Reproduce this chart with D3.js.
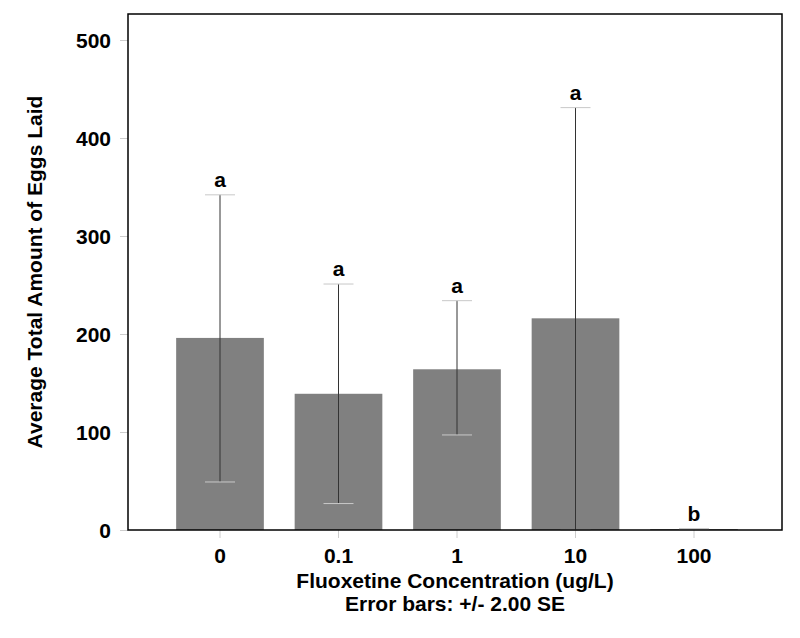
<!DOCTYPE html>
<html><head><meta charset="utf-8">
<script src="https://cdn.jsdelivr.net/npm/d3@7/dist/d3.min.js"></script>
<style>body{margin:0;background:#fff;} text{font-family:"Liberation Sans",Arial,sans-serif;font-weight:bold;}</style>
</head><body>
<svg id="c" width="800" height="638"></svg>
<script>
const categories = ["0","0.1","1","10","100"];
const means = [196, 139, 164, 216, 1];
const upper = [342, 251, 234, 431, 1.5];
const lower = [49, 27, 97, 0, 0.5];
const letters = ["a","a","a","a","b"];
const yTicks = [0,100,200,300,400,500];

const svg = d3.select("#c");
const L=128, R=782, T=14, B=530;
const FS = 21;
const x = d3.scaleBand().domain(categories).range([160.75, 753.25]).paddingInner(0.26).paddingOuter(0.13);
const y = d3.scaleLinear().domain([0,500]).range([B, 40]);

// y ticks
const ya = svg.append("g").attr("transform",`translate(${L},0)`)
  .call(d3.axisLeft(y).tickValues(yTicks).tickSize(8).tickPadding(9).tickFormat(d3.format("d")));
ya.select(".domain").remove();
ya.selectAll("line").attr("stroke","#ccc");
ya.selectAll("text").attr("font-size",FS).attr("fill","#000").attr("dy","0.35em");

const xa = svg.append("g").attr("transform",`translate(0,${B})`)
  .call(d3.axisBottom(x).tickSize(8).tickPadding(10));
xa.select(".domain").remove();
xa.selectAll("line").attr("stroke","#ccc");
xa.selectAll("text").attr("font-size",FS).attr("fill","#000");

// bars
svg.append("g").selectAll("rect").data(categories).join("rect")
  .attr("x",d=>x(d)).attr("width",x.bandwidth())
  .attr("y",(d,i)=>y(means[i])).attr("height",(d,i)=>B-y(means[i]))
  .attr("fill","#808080");

// error bars
const eb = svg.append("g");
categories.forEach((c,i)=>{
  const cx = x(c)+x.bandwidth()/2;
  eb.append("line").attr("x1",cx).attr("x2",cx).attr("y1",y(upper[i])).attr("y2",y(lower[i]))
    .attr("stroke","#333").attr("stroke-width",1);
  [upper[i],lower[i]].forEach(v=>{
    eb.append("line").attr("x1",cx-15).attr("x2",cx+15).attr("y1",y(v)).attr("y2",y(v))
      .attr("stroke","#c8c8c8").attr("stroke-width",1);
  });
  svg.append("text").attr("x",cx).attr("y",y(upper[i])-8).attr("text-anchor","middle")
    .attr("font-size",FS).text(letters[i]);
});

// frame
svg.append("rect").attr("x",L).attr("y",T).attr("width",R-L).attr("height",B-T)
  .attr("fill","none").attr("stroke","#000").attr("stroke-width",1.5);

// titles
svg.append("text").attr("x",(L+R)/2).attr("y",588).attr("text-anchor","middle").attr("font-size",FS)
  .text("Fluoxetine Concentration (ug/L)");
svg.append("text").attr("x",(L+R)/2).attr("y",611).attr("text-anchor","middle").attr("font-size",FS)
  .text("Error bars: +/- 2.00 SE");
svg.append("text").attr("transform",`translate(42,${(T+B)/2}) rotate(-90)`).attr("text-anchor","middle")
  .attr("font-size",FS).text("Average Total Amount of Eggs Laid");
</script>
</body></html>
